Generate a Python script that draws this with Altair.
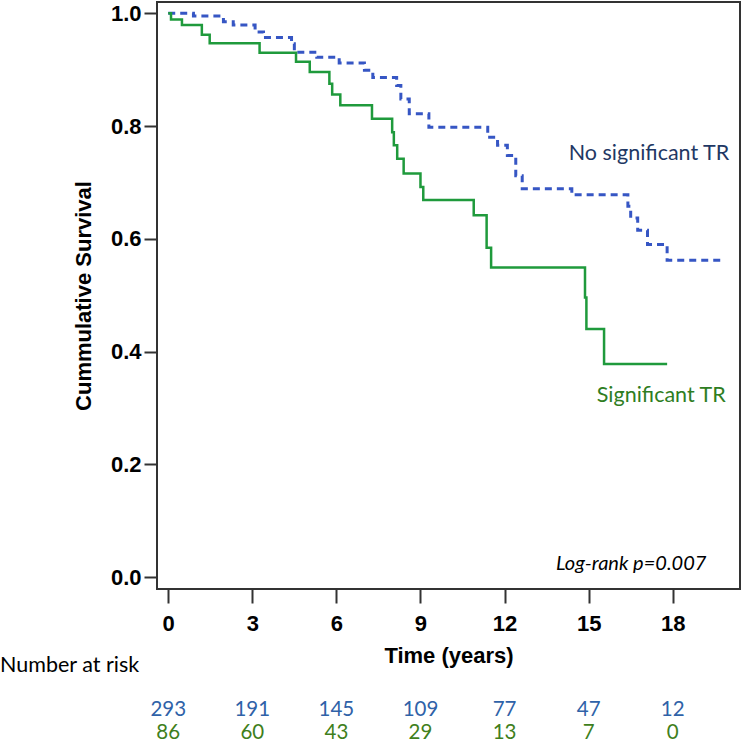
import altair as alt
import pandas as pd

# Kaplan-Meier step curves (time in years, cumulative survival)
no_tr_time = [0, 0.9, 1.97, 2.32, 3.1, 3.4, 4.4, 4.5, 5.3, 6.1, 7.0, 7.3, 8.15, 8.3,
              8.6, 9.3, 11.4, 11.75, 12.1, 12.4, 12.63, 14.4, 16.4, 16.5, 16.75,
              17.1, 17.8, 19.8]
no_tr_surv = [1.0, 0.995, 0.985, 0.979, 0.967, 0.957, 0.946, 0.931, 0.922, 0.912,
              0.899, 0.886, 0.872, 0.848, 0.822, 0.798, 0.780, 0.766, 0.748, 0.712,
              0.689, 0.678, 0.658, 0.637, 0.615, 0.590, 0.562, 0.562]

tr_time = [0, 0.1, 0.49, 1.2, 1.48, 3.26, 4.56, 5.05, 5.75, 5.85, 6.14, 7.27, 7.99,
           8.05, 8.17, 8.4, 9.0, 9.1, 10.9, 11.36, 11.52, 14.87, 14.92, 15.55, 17.8]
tr_surv = [1.0, 0.989, 0.979, 0.962, 0.947, 0.930, 0.914, 0.896, 0.875, 0.856, 0.837,
           0.813, 0.789, 0.766, 0.742, 0.716, 0.692, 0.669, 0.642, 0.584, 0.549,
           0.496, 0.440, 0.378, 0.378]

# Numbers at risk
risk_times = [0, 3, 6, 9, 12, 15, 18]
risk_no_tr = [293, 191, 145, 109, 77, 47, 12]
risk_tr = [86, 60, 43, 29, 13, 7, 0]

BLUE = "#3656c4"
GREEN = "#1f9a3c"
NAVY = "#1f3864"
DARK_GREEN = "#2e7d22"
RISK_BLUE = "#2f62a8"
RISK_GREEN = "#3f7f1c"
AXIS_FONT = "Liberation Sans"
TEXT_FONT = "Lato"

no_tr = pd.DataFrame({"t": no_tr_time, "s": no_tr_surv})
tr = pd.DataFrame({"t": tr_time, "s": tr_surv})
risk = pd.DataFrame({"t": risk_times, "a": risk_no_tr, "b": risk_tr})

x_scale = alt.Scale(domain=[-0.4, 20.4], nice=False, zero=False)
y_scale = alt.Scale(domain=[-0.021, 1.02], nice=False, zero=False)

x_enc = alt.X(
    "t:Q", scale=x_scale,
    axis=alt.Axis(values=risk_times, title="Time (years)", domain=False, grid=False,
                  tickSize=14, tickWidth=2, tickColor="#333",
                  labelFont=AXIS_FONT, labelFontWeight="bold", labelFontSize=22,
                  labelColor="black", labelPadding=10,
                  titleFont=AXIS_FONT, titleFontWeight="bold", titleFontSize=22,
                  titleColor="black", titlePadding=11),
)
y_enc = alt.Y(
    "s:Q", scale=y_scale,
    axis=alt.Axis(values=[0, 0.2, 0.4, 0.6, 0.8, 1.0], format=".1f",
                  title="Cummulative Survival", domain=False, grid=False,
                  tickSize=13, tickWidth=2, tickColor="#333",
                  labelFont=AXIS_FONT, labelFontWeight="bold", labelFontSize=22,
                  labelColor="black", labelPadding=3,
                  titleFont=AXIS_FONT, titleFontWeight="bold", titleFontSize=22,
                  titleColor="black", titlePadding=15),
)

blue_line = alt.Chart(no_tr).mark_line(
    interpolate="step-after", color=BLUE, strokeWidth=3, strokeDash=[7, 5]
).encode(x=x_enc, y=y_enc)

green_line = alt.Chart(tr).mark_line(
    interpolate="step-after", color=GREEN, strokeWidth=2.5
).encode(x="t:Q", y="s:Q")

labels = pd.DataFrame({
    "t": [14.29, 15.29],
    "s": [0.75, 0.3215],
    "label": ["No significant TR", "Significant TR"],
    "c": [NAVY, DARK_GREEN],
})
curve_labels = alt.Chart(labels).mark_text(
    align="left", baseline="middle", font=TEXT_FONT, fontSize=21.5
).encode(x="t:Q", y="s:Q", text="label:N", color=alt.Color("c:N", scale=None))

pval = alt.Chart(pd.DataFrame({"t": [19.2], "s": [0.024], "label": ["Log-rank p=0.007"]})).mark_text(
    align="right", baseline="middle", font=TEXT_FONT, fontSize=20, fontStyle="italic", color="black"
).encode(x="t:Q", y="s:Q", text="label:N")

risk_header = alt.Chart(pd.DataFrame({"label": ["Number at risk"]})).mark_text(
    align="left", baseline="middle", font=TEXT_FONT, fontSize=21.5, color="black"
).encode(x=alt.value(-157), y=alt.value(664), text="label:N")

risk_a = alt.Chart(risk).mark_text(
    align="center", baseline="middle", font=TEXT_FONT, fontSize=20.5, color=RISK_BLUE
).encode(x="t:Q", y=alt.value(708), text="a:Q")

risk_b = alt.Chart(risk).mark_text(
    align="center", baseline="middle", font=TEXT_FONT, fontSize=20.5, color=RISK_GREEN
).encode(x="t:Q", y=alt.value(731), text="b:Q")

chart = alt.layer(
    blue_line, green_line, curve_labels, pval, risk_header, risk_a, risk_b
).properties(
    width=583, height=587,
    autosize=alt.AutoSizeParams(type="none"),
    padding={"left": 157, "top": 2, "right": 4, "bottom": 156},
    background="white",
).configure_view(stroke="#333", strokeWidth=2)

chart.save("out.html", embed_options={"renderer": "svg", "actions": False})
